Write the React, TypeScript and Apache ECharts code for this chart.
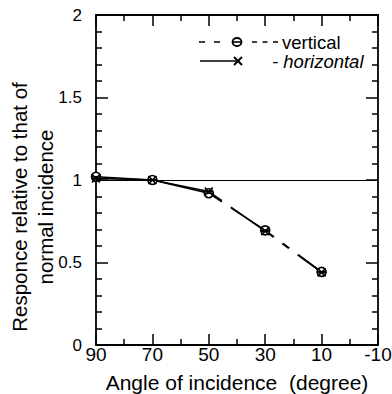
import React, { useEffect, useRef } from "react";
import * as echarts from "echarts";

// Angle of incidence (degrees) and relative response for both polarisations
const angles = [90, 70, 50, 30, 10];
const verticalResp = [1.02, 1.0, 0.92, 0.695, 0.443];
const horizontalResp = [1.01, 1.0, 0.93, 0.69, 0.44];
const referenceLevel = 1;

// tick positions drawn inward on all four sides of the frame
const xMajorTicks = [90, 70, 50, 30, 10, -10];
const xMinorTicks = [80, 60, 40, 20, 0];
const yMajorTicks = [0, 0.5, 1, 1.5, 2];
const yMinorTicks = [0.1, 0.2, 0.3, 0.4, 0.6, 0.7, 0.8, 0.9, 1.1, 1.2, 1.3, 1.4, 1.6, 1.7, 1.8, 1.9];

const X_MIN = -10;
const X_MAX = 90;
const Y_MIN = 0;
const Y_MAX = 2;

const WIDTH = 392;
const HEIGHT = 394;
const GRID = { left: 96, right: 14, top: 15, bottom: 49 };
const PLOT_W = WIDTH - GRID.left - GRID.right;
const PLOT_H = HEIGHT - GRID.top - GRID.bottom;

const FONT = "'Liberation Sans', Arial, Helvetica, sans-serif";
const CROSS = "path://M0,0 L10,10 M10,0 L0,10 M0,5 L10,5";
const THETA = "path://M0,5 A5,5 0 1 1 10,5 A5,5 0 1 1 0,5 Z M0,5 L10,5";
// long dashes broken by short gaps, as printed on the curve
const curveDash = [130, 11, 52, 11, 8, 11, 300];

// tick lengths in pixels, turned into axis units for the frame segments
const xTickUnits = (len: number) => (len / PLOT_H) * (Y_MAX - Y_MIN);
const yTickUnits = (len: number) => (len / PLOT_W) * (X_MAX - X_MIN);

const tickLine = { color: "#000", width: 1.5, type: "solid" as const };

const frameTicks = () => {
  const segs: any[] = [];
  const addX = (v: number, len: number) => {
    const d = xTickUnits(len);
    segs.push([{ coord: [v, Y_MIN], lineStyle: tickLine }, { coord: [v, Y_MIN + d] }]);
    segs.push([{ coord: [v, Y_MAX], lineStyle: tickLine }, { coord: [v, Y_MAX - d] }]);
  };
  const addY = (v: number, len: number) => {
    const d = yTickUnits(len);
    segs.push([{ coord: [X_MAX, v], lineStyle: tickLine }, { coord: [X_MAX - d, v] }]);
    segs.push([{ coord: [X_MIN, v], lineStyle: tickLine }, { coord: [X_MIN + d, v] }]);
  };
  xMajorTicks.forEach((v) => addX(v, 11));
  xMinorTicks.forEach((v) => addX(v, 6));
  yMajorTicks.forEach((v) => addY(v, 12));
  yMinorTicks.forEach((v) => addY(v, 6));
  return segs;
};

const legendGraphics = [
  // legend: vertical
  {
    type: "line",
    shape: { x1: 199, y1: 42, x2: 221, y2: 42 },
    style: { stroke: "#000", lineWidth: 1.6, lineDash: [6, 9] },
  },
  {
    type: "line",
    shape: { x1: 252, y1: 42, x2: 278, y2: 42 },
    style: { stroke: "#000", lineWidth: 1.6, lineDash: [5, 5.5] },
  },
  {
    type: "ellipse",
    shape: { cx: 237, cy: 42, rx: 4.5, ry: 4 },
    style: { fill: "#fff", stroke: "#000", lineWidth: 1.8 },
  },
  {
    type: "line",
    shape: { x1: 232.5, y1: 42, x2: 241.5, y2: 42 },
    style: { stroke: "#000", lineWidth: 1.6 },
  },
  {
    type: "text",
    x: 282,
    y: 42,
    style: {
      text: "vertical",
      font: `18.5px ${FONT}`,
      lineHeight: 15,
      fill: "#000",
      verticalAlign: "middle",
    },
  },
  // legend: horizontal
  {
    type: "line",
    shape: { x1: 200, y1: 61, x2: 236, y2: 61 },
    style: { stroke: "#000", lineWidth: 1.6 },
  },
  {
    type: "polyline",
    shape: { points: [[234, 57], [242, 65]] },
    style: { stroke: "#000", lineWidth: 2 },
  },
  {
    type: "polyline",
    shape: { points: [[242, 57], [234, 65]] },
    style: { stroke: "#000", lineWidth: 2 },
  },
  {
    type: "text",
    x: 272,
    y: 61,
    style: {
      text: "- horizontal",
      font: `italic 18.5px ${FONT}`,
      lineHeight: 15,
      fill: "#000",
      verticalAlign: "middle",
    },
  },
];

export default function App() {
  const ref = useRef<HTMLDivElement>(null);

  useEffect(() => {
    if (!ref.current) return;
    const chart = echarts.init(ref.current, undefined, { renderer: "svg" });
    const line = () => ({ show: true, onZero: false, lineStyle: { color: "#000", width: 1.8 } });

    const xAxis = (pos: "bottom" | "top") => ({
      type: "value" as const,
      position: pos,
      min: X_MIN,
      max: X_MAX,
      interval: 20,
      inverse: true,
      axisLine: line(),
      axisTick: { show: false },
      splitLine: { show: false },
    });
    const yAxis = (pos: "left" | "right") => ({
      type: "value" as const,
      position: pos,
      min: Y_MIN,
      max: Y_MAX,
      interval: 0.5,
      axisLine: line(),
      axisTick: { show: false },
      splitLine: { show: false },
    });

    chart.setOption({
      animation: false,
      backgroundColor: "#fff",
      textStyle: { fontFamily: FONT },
      grid: { ...GRID, outerBoundsMode: "none" },
      xAxis: [
        {
          ...xAxis("bottom"),
          axisLabel: {
            color: "#000",
            fontSize: 19,
            margin: 0,
            fontFamily: FONT,
            formatter: (v: number) => String(v),
          },
          name: "Angle of incidence  (degree)",
          nameLocation: "middle",
          nameMoveOverlap: false,
          nameGap: 27,
          nameTextStyle: { color: "#000", fontSize: 21, fontFamily: FONT },
        },
        { ...xAxis("top"), axisLabel: { show: false } },
      ],
      yAxis: [
        {
          ...yAxis("left"),
          axisLabel: {
            color: "#000",
            fontSize: 17,
            margin: 14,
            fontFamily: FONT,
            formatter: (v: number) => String(v),
          },
          name: "Responce relative to that of\nnormal incidence",
          nameLocation: "middle",
          nameMoveOverlap: false,
          nameGap: 38,
          nameTextStyle: {
            color: "#000",
            fontSize: 20.5,
            lineHeight: 26,
            fontFamily: FONT,
            padding: [0, 54, 0, 0],
          },
        },
        { ...yAxis("right"), axisLabel: { show: false } },
      ],
      graphic: legendGraphics,
      series: [
        {
          name: "vertical",
          type: "line",
          data: angles.map((a, i) => [a, verticalResp[i]]),
          symbol: THETA,
          symbolSize: 9,
          itemStyle: { color: "#fff", borderColor: "#000", borderWidth: 1.6 },
          lineStyle: { color: "#000", width: 1.6, type: curveDash },
          markLine: {
            silent: true,
            symbol: "none",
            label: { show: false },
            lineStyle: { color: "#000", width: 1, type: "solid" },
            data: [{ yAxis: referenceLevel }],
          },
        },
        {
          name: "horizontal",
          type: "line",
          data: angles.map((a, i) => [a, horizontalResp[i]]),
          symbol: CROSS,
          symbolSize: 8,
          itemStyle: { color: "none", borderColor: "#000", borderWidth: 1.6 },
          lineStyle: { color: "#000", width: 1.6, type: curveDash },
          markLine: {
            silent: true,
            symbol: "none",
            label: { show: false },
            lineStyle: tickLine,
            data: frameTicks(),
          },
        },
      ],
    });

    return () => chart.dispose();
  }, []);

  return (
    <div ref={ref} style={{ width: WIDTH, height: HEIGHT, position: "absolute", left: 0, top: 0 }} />
  );
}
